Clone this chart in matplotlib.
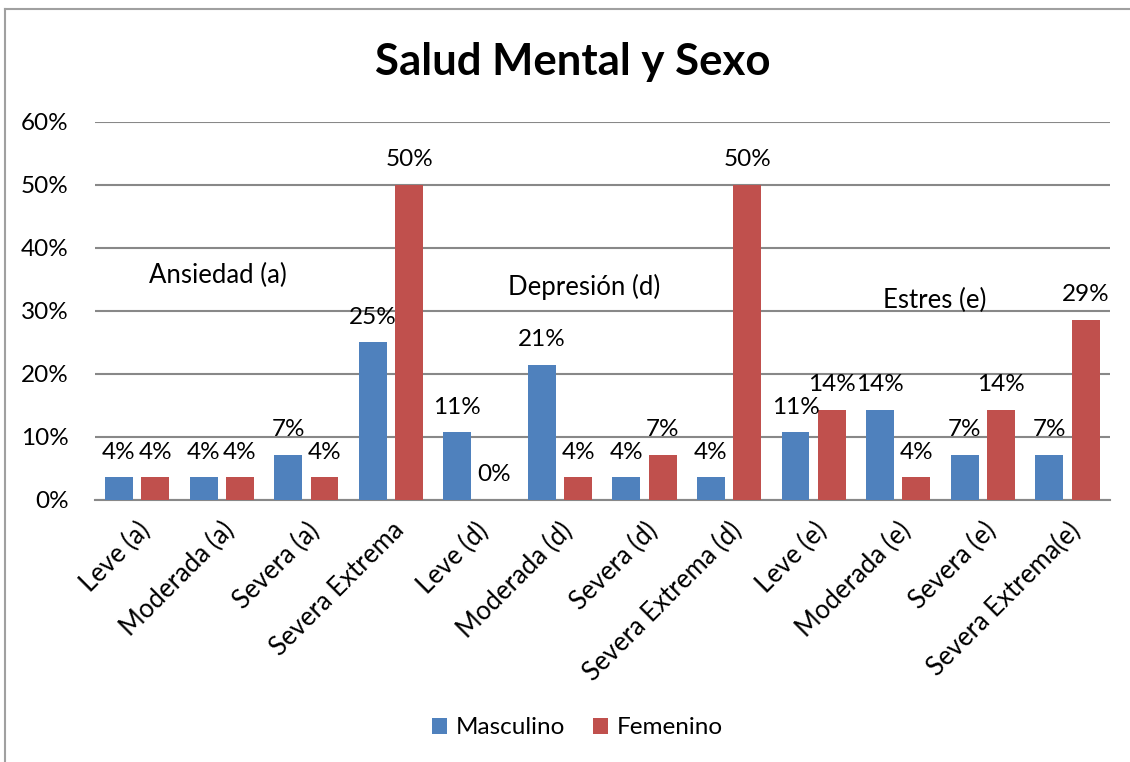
import numpy as np
import matplotlib
matplotlib.use("Agg")
import matplotlib.pyplot as plt
from matplotlib.lines import Line2D

plt.rcParams['font.family'] = ['Lato', 'DejaVu Sans']

categories = ['Leve (a)', 'Moderada (a)', 'Severa (a)', 'Severa Extrema',
              'Leve (d)', 'Moderada (d)', 'Severa (d)', 'Severa Extrema (d)',
              'Leve (e)', 'Moderada (e)', 'Severa (e)', 'Severa Extrema(e)']
masculino = [3.57, 3.57, 7.14, 25.0, 10.71, 21.43, 3.57, 3.57, 10.71, 14.29, 7.14, 7.14]
femenino = [3.57, 3.57, 3.57, 50.0, 0.0, 3.57, 7.14, 50.0, 14.29, 3.57, 14.29, 28.57]
series_names = ['Masculino', 'Femenino']
group_labels = ['Ansiedad (a)', 'Depresión (d)', 'Estres (e)']
group_pos = [(0.95, 35.7), (5.28, 33.8), (9.43, 31.7)]

BLUE = '#4f81bd'
RED = '#c0504d'
GRID = '#888888'
FS = 17.5

fig = plt.figure(figsize=(11.3, 7.62), dpi=100)
ax = fig.add_axes([0.084, 0.344, 0.898, 0.496])

x = np.arange(len(categories))
w = 0.33
off = 0.215
b1 = ax.bar(x - off, masculino, w, color=BLUE, label=series_names[0], zorder=3)
b2 = ax.bar(x + off, femenino, w, color=RED, label=series_names[1], zorder=3)

for bars, vals in ((b1, masculino), (b2, femenino)):
    for rect, v in zip(bars, vals):
        ax.annotate(f"{v:.0f}%", (rect.get_x() + rect.get_width() / 2, v),
                    xytext=(0, 18), textcoords='offset points',
                    ha='center', va='center', fontsize=FS)

for lbl, (gx, gy) in zip(group_labels, group_pos):
    ax.text(gx, gy, lbl, ha='center', va='center', fontsize=18.5)

ax.set_xlim(-0.5, len(categories) - 0.5)
ax.set_ylim(0, 60)
ax.set_yticks(range(0, 61, 10))
ax.set_yticklabels([f"{t}%" for t in range(0, 61, 10)], fontsize=FS)
ax.yaxis.grid(True, color=GRID, linewidth=1.5, zorder=0)
ax.set_axisbelow(True)
ax.tick_params(axis='y', length=0, pad=19)
ax.tick_params(axis='x', length=0, pad=13)
ax.set_xticks(x)
ax.set_xticklabels(categories, rotation=45, ha='right', rotation_mode='anchor', fontsize=18.5)
for s in ('top', 'right', 'left'):
    ax.spines[s].set_visible(False)
ax.spines['bottom'].set_color(GRID)
ax.spines['bottom'].set_linewidth(1.5)

fig.text(0.507, 0.918, 'Salud Mental y Sexo', ha='center', va='center',
         fontsize=31.5, fontweight='bold')

fig.legend(handles=[b1, b2], labels=series_names, loc='center',
           bbox_to_anchor=(0.511, 0.045), ncol=2, frameon=False, fontsize=FS,
           handlelength=0.62, handleheight=0.62, handletextpad=0.35, columnspacing=1.15)

# chart border (top and left edges visible)
fig.add_artist(Line2D([5 / 1130, 5 / 1130], [0, 1 - 9 / 762], color='#a0a0a0', linewidth=1.5))
fig.add_artist(Line2D([5 / 1130, 1], [1 - 9 / 762, 1 - 9 / 762], color='#a0a0a0', linewidth=1.5))

fig.savefig('out.png', dpi=100)
